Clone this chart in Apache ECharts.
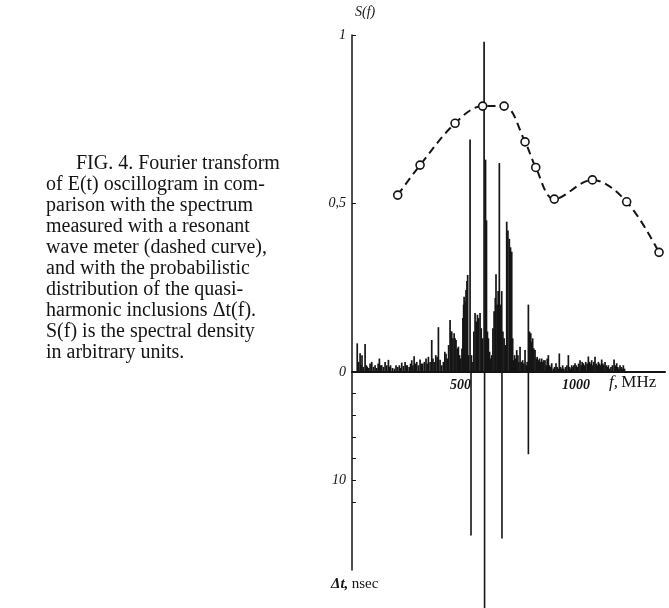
<!DOCTYPE html>
<html>
<head>
<meta charset="utf-8">
<script src="https://cdn.jsdelivr.net/npm/echarts@6/dist/echarts.min.js"></script>
<style>
  html, body { margin: 0; padding: 0; background: #fff; }
  #chart { width: 669px; height: 608px; }
</style>
</head>
<body>
<div id="chart"></div>
<script>
// spectral density S(f), f in MHz
const specFreq = [22, 28, 34, 38, 42, 48, 55, 60, 64, 70, 76, 83, 90, 97, 104, 110, 115, 120, 125, 132,
  139, 146, 153, 158, 162, 170, 178, 185, 192, 199, 204, 209, 216, 223, 228, 232, 240, 246, 251, 256,
  261, 266, 272, 279, 286, 292, 297, 304, 311, 316, 321, 328, 335, 340, 345, 352, 358, 363, 370, 377,
  384, 390, 395, 400, 406, 412, 416, 419, 424, 429, 433, 437, 442, 447, 452, 457, 462, 466, 469, 471,
  475, 479, 483, 486, 490, 496, 502, 508, 512, 517, 522, 527, 532, 538, 543, 546, 549, 555, 561, 565,
  569, 573, 578, 582, 587, 592, 597, 602, 605, 610, 614, 619, 624, 629, 634, 639, 644, 650, 655, 661,
  666, 671, 675, 678, 683, 688, 692, 697, 701, 706, 711, 717, 722, 727, 732, 736, 741, 746, 751, 755,
  759, 764, 769, 774, 778, 783, 788, 792, 797, 802, 806, 811, 816, 820, 825, 830, 834, 839, 846, 851,
  857, 862, 866, 871, 876, 880, 885, 890, 897, 903, 909, 914, 918, 923, 928, 932, 937, 942, 947, 952,
  958, 963, 967, 972, 977, 982, 988, 993, 998, 1002, 1007, 1012, 1016, 1021, 1026, 1030, 1035, 1040, 1045, 1049,
  1054, 1058, 1063, 1068, 1072, 1077, 1082, 1088, 1094, 1101, 1106, 1112, 1117, 1121, 1126, 1131, 1135, 1140, 1145]
const specVal = [0.085, 0.03, 0.056, 0.02, 0.05, 0.015, 0.083, 0.02, 0.016, 0.012, 0.025, 0.03, 0.015, 0.02, 0.012, 0.025, 0.04, 0.02, 0.02, 0.015,
  0.03, 0.02, 0.036, 0.015, 0.02, 0.012, 0.01, 0.02, 0.015, 0.02, 0.012, 0.028, 0.018, 0.03, 0.02, 0.02, 0.015, 0.025, 0.035, 0.02,
  0.047, 0.025, 0.03, 0.02, 0.037, 0.025, 0.025, 0.03, 0.04, 0.025, 0.045, 0.03, 0.095, 0.04, 0.03, 0.05, 0.045, 0.133, 0.036, 0.02,
  0.03, 0.06, 0.054, 0.04, 0.08, 0.154, 0.12, 0.12, 0.1, 0.115, 0.1, 0.095, 0.07, 0.075, 0.05, 0.04, 0.07, 0.16, 0.2, 0.223,
  0.21, 0.243, 0.27, 0.288, 0.05, 0.69, 0.05, 0.03, 0.12, 0.175, 0.15, 0.17, 0.16, 0.175, 0.13, 0.09, 0.1, 0.98, 0.63, 0.45,
  0.12, 0.1, 0.06, 0.04, 0.05, 0.13, 0.18, 0.22, 0.29, 0.2, 0.24, 0.62, 0.2, 0.24, 0.12, 0.1, 0.08, 0.446, 0.42, 0.395,
  0.37, 0.357, 0.1, 0.035, 0.05, 0.04, 0.065, 0.05, 0.03, 0.075, 0.03, 0.035, 0.025, 0.065, 0.02, 0.03, 0.2, 0.12, 0.115, 0.09,
  0.1, 0.07, 0.065, 0.04, 0.045, 0.035, 0.04, 0.03, 0.04, 0.03, 0.035, 0.035, 0.02, 0.04, 0.05, 0.02, 0.015, 0.026, 0.01, 0.015,
  0.026, 0.015, 0.01, 0.055, 0.015, 0.01, 0.02, 0.01, 0.015, 0.02, 0.05, 0.015, 0.01, 0.02, 0.015, 0.02, 0.026, 0.02, 0.015, 0.025,
  0.035, 0.02, 0.03, 0.026, 0.02, 0.03, 0.025, 0.046, 0.03, 0.025, 0.035, 0.02, 0.03, 0.045, 0.025, 0.02, 0.03, 0.025, 0.02, 0.037,
  0.025, 0.02, 0.03, 0.02, 0.015, 0.02, 0.01, 0.015, 0.02, 0.037, 0.02, 0.026, 0.015, 0.01, 0.02, 0.015, 0.01, 0.02, 0.01]

// resonant wave meter spectrum (dashed curve)
const meterFreq = [192, 286, 433, 549, 639, 727, 772, 850, 1010, 1154, 1290]
const meterVal = [0.525, 0.614, 0.738, 0.789, 0.789, 0.683, 0.607, 0.513, 0.57, 0.505, 0.355]

// quasi-harmonic inclusions Δt(f), nsec
const dtFreq = [500, 557, 630, 741]
const dtVal = [15.1, 22, 15.4, 7.6]

// tick labels
const sTicks = [0, 0.5, 1]
const fTicks = [500, 1000]
const dtTicks = [2, 4, 6, 8, 10, 12]
const dtLabels = [10]

const captionLines = [
  'FIG. 4. Fourier transform',
  'of E(t) oscillogram in com-',
  'parison with the spectrum',
  'measured with a resonant',
  'wave meter (dashed curve),',
  'and with the probabilistic',
  'distribution of the quasi-',
  'harmonic inclusions \u0394t(f).',
  'S(f) is the spectral density',
  'in arbitrary units.'
]

const ink = '#151515'
const serif = '"Liberation Serif", "DejaVu Serif", serif'

const zip = (a, b) => a.map((v, i) => [v, b[i]])

const captionGraphics = captionLines.map((line, i) => ({
  type: 'text',
  left: i === 0 ? 76 : 46,
  top: 154 + i * 21,
  style: { text: line, fill: ink, font: '20px ' + serif }
}))

const chart = echarts.init(document.getElementById('chart'))

chart.setOption({
  animation: false,
  grid: [
    { left: 352, top: 35, width: 313, height: 337 },
    { left: 352, top: 372, width: 313, height: 198 }
  ],
  xAxis: [
    {
      type: 'value', gridIndex: 0, min: 0, max: 1315,
      axisLine: { onZero: false, lineStyle: { color: ink, width: 2 } },
      axisTick: { show: false },
      splitLine: { show: false },
      axisLabel: {
        customValues: fTicks,
        color: ink, fontFamily: serif, fontStyle: 'italic', fontWeight: 'bold', fontSize: 14,
        align: 'right', margin: 6,
        formatter: (v) => String(v)
      }
    },
    {
      type: 'value', gridIndex: 1, min: 0, max: 1315, position: 'top',
      axisLine: { show: false }, axisTick: { show: false },
      axisLabel: { show: false }, splitLine: { show: false }
    }
  ],
  yAxis: [
    {
      type: 'value', gridIndex: 0, min: 0, max: 1,
      axisLine: { show: true, lineStyle: { color: ink, width: 1.5 } },
      axisTick: { show: true, inside: true, length: 4, customValues: sTicks, lineStyle: { color: ink } },
      splitLine: { show: false },
      axisLabel: {
        customValues: sTicks,
        color: ink, fontFamily: serif, fontStyle: 'italic', fontSize: 14, margin: 6,
        formatter: (v) => (v === 0.5 ? '0,5' : String(v))
      }
    },
    {
      type: 'value', gridIndex: 1, min: 0, max: 18.3, inverse: true,
      axisLine: { show: true, lineStyle: { color: ink, width: 1.5 } },
      axisTick: { show: true, inside: true, length: 4, customValues: dtTicks, lineStyle: { color: ink } },
      splitLine: { show: false },
      axisLabel: {
        customValues: dtLabels,
        color: ink, fontFamily: serif, fontStyle: 'italic', fontSize: 14, margin: 6,
        formatter: (v) => String(v)
      }
    }
  ],
  series: [
    {
      name: 'S(f)', type: 'bar', xAxisIndex: 0, yAxisIndex: 0,
      barWidth: 1.7, itemStyle: { color: ink },
      data: zip(specFreq, specVal)
    },
    {
      name: 'Δt', type: 'bar', xAxisIndex: 1, yAxisIndex: 1,
      barWidth: 1.6, clip: false, itemStyle: { color: ink },
      data: zip(dtFreq, dtVal)
    },
    {
      name: 'wave meter', type: 'line', xAxisIndex: 0, yAxisIndex: 0,
      smooth: 0.35, symbol: 'circle', symbolSize: 8, z: 5,
      lineStyle: { color: ink, width: 2, type: [8, 5] },
      itemStyle: { color: '#fff', borderColor: ink, borderWidth: 1.6 },
      data: zip(meterFreq, meterVal)
    }
  ],
  graphic: [
    ...captionGraphics,
    {
      type: 'text', left: 355, top: 5,
      style: { text: 'S(f)', fill: ink, font: 'italic 14px ' + serif }
    },
    {
      type: 'text', left: 609, top: 374,
      style: {
        text: '{i|f,} {r|MHz}', fill: ink,
        rich: {
          i: { fontFamily: serif, fontStyle: 'italic', fontSize: 17 },
          r: { fontFamily: serif, fontSize: 17 }
        }
      }
    },
    {
      type: 'text', left: 331, top: 577,
      style: {
        text: '{i|\u0394t,} {r|nsec}', fill: ink,
        rich: {
          i: { fontFamily: serif, fontStyle: 'italic', fontWeight: 'bold', fontSize: 15 },
          r: { fontFamily: serif, fontSize: 15 }
        }
      }
    }
  ]
})
</script>
</body>
</html>
